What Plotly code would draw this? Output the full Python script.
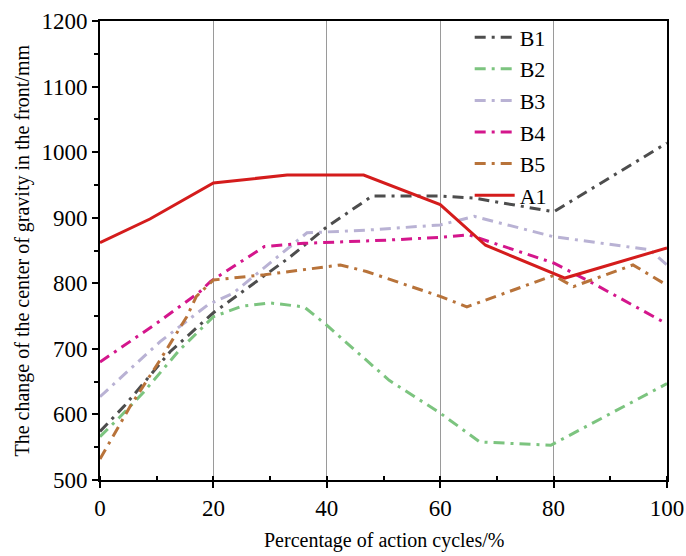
import plotly.graph_objects as go

# ---- data ----
x_B1 = [0, 4.4, 12.4, 20, 33.5, 40, 48, 60, 66, 80, 100]
y_B1 = [574, 614, 696, 755, 840, 886, 933, 933, 930, 909, 1014]

x_B2 = [0, 3.5, 7.6, 14, 20, 25, 30, 36, 40, 51, 60, 67, 79.5, 100]
y_B2 = [566, 596, 633, 698, 749, 765, 770, 764, 736, 652, 602, 558, 553, 647]

x_B3 = [0, 10.6, 19, 23.5, 36.5, 47, 60, 66, 80, 97, 100]
y_B3 = [627, 711, 767, 785, 877, 881, 889, 902, 871, 851, 828]

x_B4 = [0, 10, 17.6, 19.5, 29, 36, 51, 60, 65, 80, 86.5, 100]
y_B4 = [680, 739, 787, 803, 856, 861, 866, 870, 874, 831, 802, 738]

x_B5 = [0, 5.3, 10.6, 15.3, 17, 20, 29, 42.4, 47, 60, 64.7, 80, 83.5, 94, 100]
y_B5 = [532, 612, 683, 749, 780, 805, 813, 828, 818, 780, 764, 812, 795, 828, 797]

x_A1 = [0, 8.8, 20, 33, 46.5, 60, 68, 82, 100]
y_A1 = [862, 898, 953, 965, 965, 920, 858, 808, 854]

names = ["B1", "B2", "B3", "B4", "B5", "A1"]
xs = [x_B1, x_B2, x_B3, x_B4, x_B5, x_A1]
ys = [y_B1, y_B2, y_B3, y_B4, y_B5, y_A1]
colors = ["#4d4d4d", "#7cc47f", "#b9b2d4", "#d4168c", "#b8733a", "#d41c1c"]
dashes = ["11px,6px,3px,6px"] * 5 + ["solid"]

x_ticks = [0, 20, 40, 60, 80, 100]
y_ticks = [500, 600, 700, 800, 900, 1000, 1100, 1200]

x_title = "Percentage of action cycles/%"
y_title = "The change of the center of gravity in the front/mm"

FONT = "Liberation Serif, Times New Roman, serif"

fig = go.Figure()
for n, x, y, c, d in zip(names, xs, ys, colors, dashes):
    fig.add_trace(go.Scatter(
        x=x, y=y, name=n, mode="lines",
        line=dict(color=c, width=3, dash=d),
    ))

fig.update_layout(
    width=686, height=556,
    margin=dict(l=100, r=19, t=21, b=76),
    paper_bgcolor="white", plot_bgcolor="white",
    font=dict(family=FONT, size=22, color="black"),
    showlegend=True,
    legend=dict(
        x=0.652, y=1.01, xanchor="left", yanchor="top",
        bgcolor="rgba(0,0,0,0)", borderwidth=0,
        font=dict(family=FONT, size=22, color="black"),
        tracegroupgap=0, itemwidth=40,
    ),
    annotations=[
        dict(
            text=y_title, textangle=-90,
            xref="paper", yref="paper", x=0, y=0.5,
            xshift=-78, xanchor="center", yanchor="middle",
            showarrow=False, font=dict(family=FONT, size=20, color="black"),
        ),
        dict(
            text=x_title,
            xref="paper", yref="paper", x=0.5, y=0,
            yshift=-60, xanchor="center", yanchor="middle",
            showarrow=False, font=dict(family=FONT, size=20, color="black"),
        ),
    ],
)

fig.update_xaxes(
    range=[0, 100], tickvals=x_ticks, ticktext=[str(v) for v in x_ticks],
    showgrid=True, gridcolor="#9a9a9a", gridwidth=1,
    showline=True, linecolor="black", linewidth=2, mirror=True,
    ticks="outside", ticklen=6, tickwidth=2, tickcolor="black",
    minor=dict(dtick=10, ticks="inside", ticklen=4, tickwidth=2, tickcolor="black", showgrid=False),
    zeroline=False, automargin=False,
    tickfont=dict(family=FONT, size=23),
)
fig.update_yaxes(
    range=[500, 1200], tickvals=y_ticks, ticktext=[str(v) for v in y_ticks],
    showgrid=False,
    showline=True, linecolor="black", linewidth=2, mirror=True,
    ticks="outside", ticklen=6, tickwidth=2, tickcolor="black",
    minor=dict(dtick=50, ticks="outside", ticklen=4, tickwidth=2, tickcolor="black", showgrid=False),
    zeroline=False, automargin=False,
    tickfont=dict(family=FONT, size=23),
)

fig.write_html("out.html")
